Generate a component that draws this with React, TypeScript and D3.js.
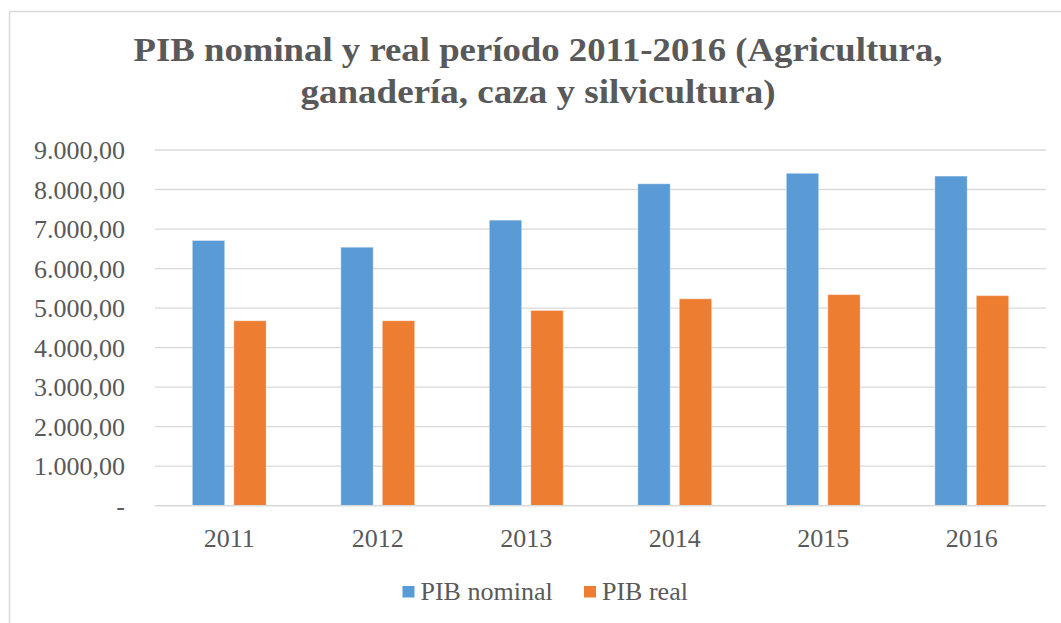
import * as d3 from "d3";
import { useEffect } from "react";

const years = ["2011", "2012", "2013", "2014", "2015", "2016"];
const series = ["PIB nominal", "PIB real"];
const pibNominal = [6710, 6540, 7225, 8145, 8410, 8340];
const pibReal = [4680, 4680, 4940, 5235, 5340, 5315];
const yTicks = [0, 1000, 2000, 3000, 4000, 5000, 6000, 7000, 8000, 9000];
const titleLines = [
  "PIB nominal y real período 2011-2016 (Agricultura,",
  "ganadería, caza y silvicultura)",
];
const titleWidths = [809, 475];

const colors = ["#5b9bd5", "#ed7d31"];
const textColor = "#595959";
const gridColor = "#d9d9d9";
const font = "Liberation Serif, Times New Roman, Times, DejaVu Serif, serif";

const fmt = (v: number) =>
  v === 0
    ? "-"
    : d3.format(",.2f")(v).replace(/,/g, "#").replace(".", ",").replace(/#/g, ".");

export default function App() {
  useEffect(() => {
    document.body.style.margin = "0";
  }, []);

  const W = 1061;
  const H = 623;
  const left = 155;
  const right = 1046;
  const top = 150;
  const bottom = 505.7;

  const x0 = d3.scaleBand<string>().domain(years).range([left, right]).padding(0);
  const x1 = d3
    .scaleBand<string>()
    .domain(series)
    .range([0, x0.bandwidth()])
    .paddingInner(0.22)
    .paddingOuter(0.9);
  const y = d3.scaleLinear().domain([0, 9000]).range([bottom, top]);

  const values = [pibNominal, pibReal];

  return (
    <svg width={W} height={H} fontFamily={font} style={{ display: "block", background: "#fff" }}>
      <line x1={9.5} y1={11.5} x2={W} y2={11.5} stroke={gridColor} strokeWidth={1.5} />
      <line x1={9.5} y1={11.5} x2={9.5} y2={H} stroke={gridColor} strokeWidth={1.5} />

      {titleLines.map((t, i) => (
        <text
          key={t}
          x={538}
          y={61 + i * 42}
          textAnchor="middle"
          fill={textColor}
          fontWeight="bold"
          fontSize={34}
          fontFamily={font}
          textLength={titleWidths[i]}
          lengthAdjust="spacingAndGlyphs"
        >
          {t}
        </text>
      ))}

      {yTicks.map((v) => (
        <g key={v}>
          {v > 0 && (
            <line
              x1={left}
              x2={right}
              y1={y(v)}
              y2={y(v)}
              stroke={gridColor}
              strokeWidth={1.3}
            />
          )}
          <text
            x={125}
            y={y(v)}
            dy="0.35em"
            textAnchor="end"
            fill={textColor}
            fontSize={26}
            fontFamily={font}
          >
            {fmt(v)}
          </text>
        </g>
      ))}

      {years.map((yr, i) =>
        series.map((s, j) => (
          <rect
            key={yr + s}
            x={(x0(yr) ?? 0) + (x1(s) ?? 0)}
            y={y(values[j][i])}
            width={x1.bandwidth()}
            height={bottom - y(values[j][i])}
            fill={colors[j]}
            stroke="#ffffff"
            strokeOpacity={0.35}
            strokeWidth={1}
          />
        )),
      )}

      <line x1={left} x2={right} y1={bottom} y2={bottom} stroke={gridColor} strokeWidth={1.5} />

      {years.map((yr) => (
        <text
          key={yr}
          x={(x0(yr) ?? 0) + x0.bandwidth() / 2}
          y={547}
          textAnchor="middle"
          fill={textColor}
          fontSize={26}
          fontFamily={font}
        >
          {yr}
        </text>
      ))}

      {series.map((s, j) => {
        const lx = [402.5, 584][j];
        return (
          <g key={s}>
            <rect x={lx} y={586} width={12} height={11.5} fill={colors[j]} />
            <text x={lx + 18} y={600} fill={textColor} fontSize={26} fontFamily={font}>
              {s}
            </text>
          </g>
        );
      })}
    </svg>
  );
}
